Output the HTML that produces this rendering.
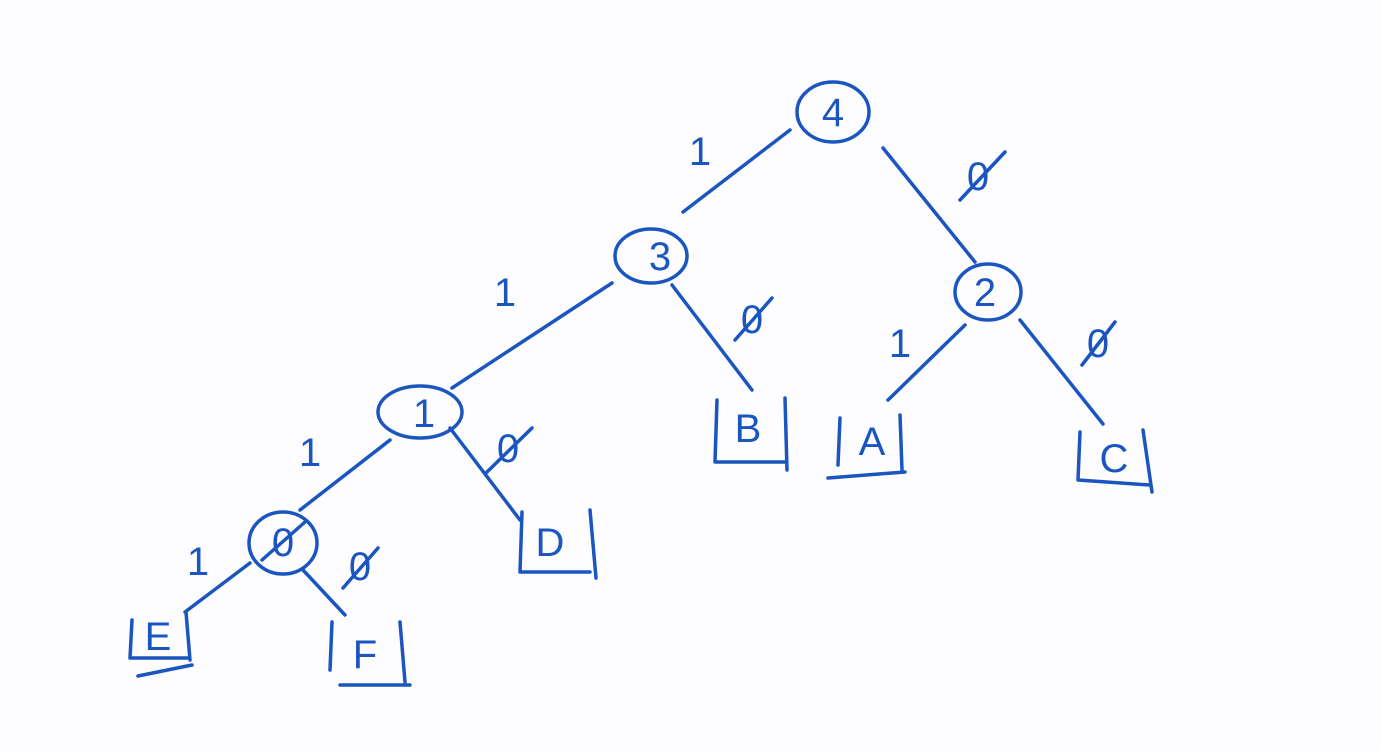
<!DOCTYPE html>
<html><head><meta charset="utf-8"><style>
html,body{margin:0;padding:0;background:#fdfdff;}
svg{display:block}
text{font-family:"Liberation Sans",sans-serif;fill:#1a55c0;}
</style></head><body>
<svg width="1381" height="751" viewBox="0 0 1381 751" xmlns="http://www.w3.org/2000/svg">
<g fill="none" stroke="#1a55c0" stroke-width="3.5" stroke-linecap="round" stroke-linejoin="round">
<!-- nodes -->
<ellipse cx="833" cy="112" rx="36" ry="30"/>
<ellipse cx="651" cy="256" rx="36" ry="27"/>
<ellipse cx="988" cy="292" rx="33" ry="28"/>
<ellipse cx="420" cy="412" rx="42" ry="26"/>
<ellipse cx="283" cy="543" rx="34" ry="31"/>
<!-- edges -->
<path d="M790 130 L683 212"/>
<path d="M883 148 L975 262"/>
<path d="M612 283 L452 388"/>
<path d="M672 285 L752 390"/>
<path d="M965 325 L888 400"/>
<path d="M1020 320 L1103 424"/>
<path d="M390 440 L300 510"/>
<path d="M450 428 L520 520"/>
<path d="M250 563 L185 612"/>
<path d="M303 570 L345 615"/>
<!-- leaves -->
<path d="M717 400 L715 462 L785 462 M785 398 L787 470"/>
<path d="M840 418 L838 465 M828 478 L905 472 M900 415 L902 470"/>
<path d="M1080 432 L1078 480 L1150 485 M1143 430 L1152 492"/>
<path d="M522 512 L520 572 L590 572 M590 510 L596 578"/>
<path d="M132 620 L130 658 L188 658 M186 612 L190 660 M138 676 L192 665"/>
<path d="M332 622 L330 670 M340 685 L410 685 M400 622 L405 682"/>
<!-- zero slashes -->
<path d="M960 200 L1005 152"/>
<path d="M735 340 L772 298"/>
<path d="M1082 365 L1115 322"/>
<path d="M487 472 L532 428"/>
<path d="M262 560 L305 522"/>
<path d="M343 588 L378 548"/>
</g>
<g font-size="40" text-anchor="middle">
<text x="833" y="126">4</text>
<text x="660" y="270">3</text>
<text x="985" y="306">2</text>
<text x="424" y="427">1</text>
<text x="283" y="556">0</text>
<text x="748" y="442">B</text>
<text x="872" y="455">A</text>
<text x="1114" y="472">C</text>
<text x="550" y="556">D</text>
<text x="158" y="650">E</text>
<text x="365" y="668">F</text>
<text x="700" y="165">1</text>
<text x="978" y="190">0</text>
<text x="505" y="306">1</text>
<text x="752" y="333">0</text>
<text x="900" y="357">1</text>
<text x="1098" y="357">0</text>
<text x="310" y="466">1</text>
<text x="508" y="462">0</text>
<text x="198" y="575">1</text>
<text x="360" y="580">0</text>
</g>
</svg>
</body></html>
